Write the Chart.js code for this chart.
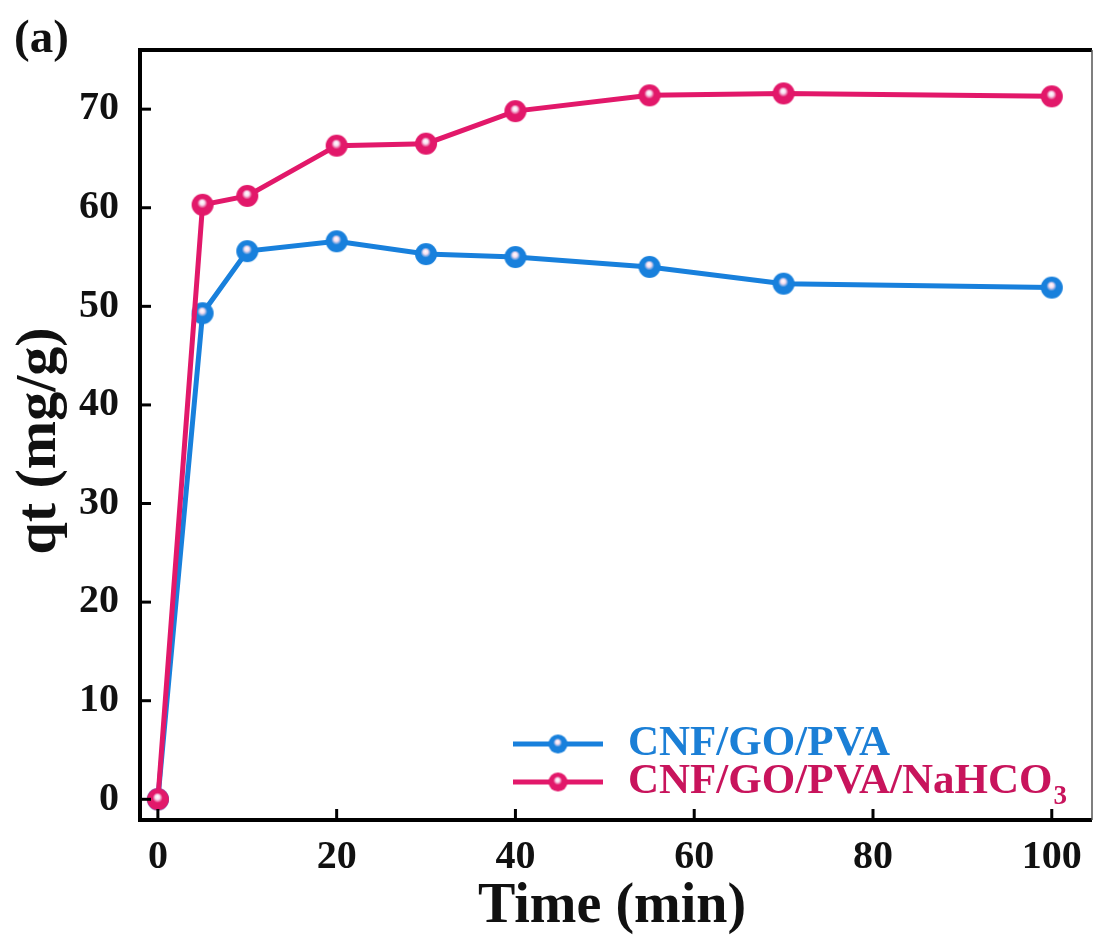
<!DOCTYPE html>
<html>
<head>
<meta charset="utf-8">
<script src="https://cdn.jsdelivr.net/npm/chart.js@4.4.1/dist/chart.umd.min.js"></script>
<style>
html,body{margin:0;padding:0;background:#fff;}
#wrap{width:1094px;height:938px;}
</style>
</head>
<body>
<div id="wrap"><canvas id="c" width="1094" height="938"></canvas></div>
<script>
const times = [0, 5, 10, 20, 30, 40, 55, 70, 100];
const qtPVA = [0, 49.3, 55.6, 56.6, 55.3, 55.0, 54.0, 52.3, 51.9];
const qtNaHCO3 = [0, 60.3, 61.2, 66.3, 66.5, 69.8, 71.4, 71.6, 71.3];
const xTicks = [0, 20, 40, 60, 80, 100];
const yTicks = [0, 10, 20, 30, 40, 50, 60, 70];
const seriesNames = ['CNF/GO/PVA', 'CNF/GO/PVA/NaHCO'];

const BLUE = '#1880dc';
const PINK = '#e2186a';
const BLUE_TXT = '#1b7fd6';
const PINK_TXT = '#c8145c';
const FONT = '"Liberation Serif", "Times New Roman", serif';

function sphere(color, r) {
  const c = document.createElement('canvas');
  const s = Math.ceil(2 * r + 2);
  c.width = s; c.height = s;
  const ctx = c.getContext('2d');
  const cx = s / 2, cy = s / 2;
  const g = ctx.createRadialGradient(cx - r * 0.05, cy - r * 0.25, r * 0.02, cx, cy, r);
  g.addColorStop(0, '#ffffff');
  g.addColorStop(0.2, '#f6dcee');
  g.addColorStop(0.45, color);
  g.addColorStop(1, color);
  ctx.fillStyle = g;
  ctx.beginPath();
  ctx.arc(cx, cy, r, 0, Math.PI * 2);
  ctx.fill();
  return c;
}
const bluePt = sphere(BLUE, 11);
const pinkPt = sphere(PINK, 11);
const blueLeg = sphere(BLUE, 9.5);
const pinkLeg = sphere(PINK, 9.5);

const toXY = arr => times.map((t, i) => ({ x: t, y: arr[i] }));

const framePlugin = {
  id: 'frame',
  afterDraw(chart) {
    const { ctx, chartArea: a, scales } = chart;
    ctx.save();
    ctx.strokeStyle = '#000';
    ctx.lineWidth = 3;
    xTicks.forEach(v => {
      const px = scales.x.getPixelForValue(v);
      ctx.beginPath(); ctx.moveTo(px, a.bottom); ctx.lineTo(px, a.bottom - 11); ctx.stroke();
    });
    yTicks.forEach(v => {
      const py = scales.y.getPixelForValue(v);
      ctx.beginPath(); ctx.moveTo(a.left, py); ctx.lineTo(a.left + 11, py); ctx.stroke();
    });
    ctx.lineWidth = 4;
    ctx.beginPath();
    ctx.moveTo(a.right, a.top); ctx.lineTo(a.left, a.top); ctx.lineTo(a.left, a.bottom); ctx.lineTo(a.right, a.bottom);
    ctx.stroke();
    ctx.lineWidth = 1.5;
    ctx.strokeStyle = '#555';
    ctx.beginPath(); ctx.moveTo(a.right, a.top); ctx.lineTo(a.right, a.bottom); ctx.stroke();

    ctx.fillStyle = '#111';
    ctx.font = 'bold 56px ' + FONT;
    ctx.textAlign = 'center';
    ctx.textBaseline = 'alphabetic';
    ctx.fillText('Time (min)', (a.left + a.right) / 2 - 4, 922);
    ctx.save();
    ctx.translate(55, 441);
    ctx.rotate(-Math.PI / 2);
    ctx.font = 'bold 58px ' + FONT;
    ctx.fillText('qt (mg/g)', 0, 0);
    ctx.restore();
    ctx.font = 'bold 47px ' + FONT;
    ctx.textAlign = 'left';
    ctx.fillText('(a)', 14, 52);

    const legend = [
      { name: seriesNames[0], color: BLUE, txt: BLUE_TXT, img: blueLeg, y: 744, sub: '' },
      { name: seriesNames[1], color: PINK, txt: PINK_TXT, img: pinkLeg, y: 782, sub: '3' }
    ];
    legend.forEach(it => {
      ctx.strokeStyle = it.color;
      ctx.lineWidth = 5;
      ctx.beginPath(); ctx.moveTo(513, it.y); ctx.lineTo(603, it.y); ctx.stroke();
      ctx.drawImage(it.img, 558 - it.img.width / 2, it.y - it.img.height / 2);
      ctx.fillStyle = it.txt;
      ctx.font = 'bold 43px ' + FONT;
      ctx.textAlign = 'left';
      ctx.textBaseline = 'middle';
      ctx.fillText(it.name, 628, it.y);
      if (it.sub) {
        const w = ctx.measureText(it.name).width;
        ctx.font = 'bold 27px ' + FONT;
        ctx.fillText(it.sub, 628 + w + 1, it.y + 15);
      }
    });
    ctx.restore();
  }
};

new Chart(document.getElementById('c'), {
  type: 'line',
  data: {
    datasets: [
      {
        label: seriesNames[0],
        data: toXY(qtPVA),
        borderColor: BLUE,
        backgroundColor: BLUE,
        borderWidth: 5,
        pointStyle: bluePt,
        pointRadius: 11,
        tension: 0,
        order: 1
      },
      {
        label: seriesNames[1] + '3',
        data: toXY(qtNaHCO3),
        borderColor: PINK,
        backgroundColor: PINK,
        borderWidth: 5,
        pointStyle: pinkPt,
        pointRadius: 11,
        tension: 0,
        order: 0
      }
    ]
  },
  options: {
    responsive: false,
    animation: false,
    devicePixelRatio: 1,
    layout: { autoPadding: false, padding: { top: 50, right: 2, left: 0, bottom: 0 } },
    plugins: { legend: { display: false }, tooltip: { enabled: false } },
    scales: {
      x: {
        type: 'linear',
        min: -2,
        max: 104.5,
        grid: { display: false, drawTicks: false },
        border: { display: false },
        afterBuildTicks: s => { s.ticks = xTicks.map(v => ({ value: v })); },
        afterFit: s => { s.height = 118; s.paddingLeft = 0; s.paddingRight = 0; },
        ticks: {
          padding: 14,
          color: '#111',
          font: { family: FONT, size: 40, weight: 'bold' },
          maxRotation: 0
        }
      },
      y: {
        type: 'linear',
        min: -2.1,
        max: 76,
        grid: { display: false, drawTicks: false },
        border: { display: false },
        afterBuildTicks: s => { s.ticks = yTicks.map(v => ({ value: v })); },
        afterFit: s => { s.width = 140; s.paddingTop = 0; s.paddingBottom = 0; },
        ticks: {
          padding: 21,
          color: '#111',
          font: { family: FONT, size: 40, weight: 'bold' }
        }
      }
    }
  },
  plugins: [framePlugin]
});
</script>
</body>
</html>
